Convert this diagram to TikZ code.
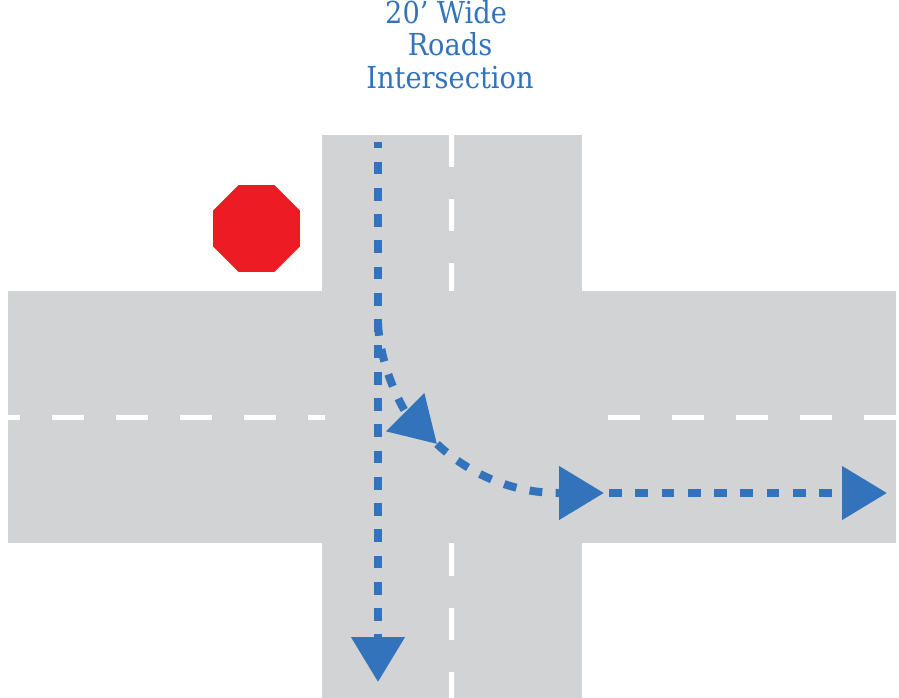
\documentclass[tikz,border=0pt]{standalone}
\usepackage{fontspec}
\setmainfont{DejaVu Serif Condensed}
\usepackage{xcolor}
\usetikzlibrary{arrows.meta, shapes.geometric}
\definecolor{roadgray}{RGB}{209,211,212}
\definecolor{routeblue}{RGB}{50,115,188}
\definecolor{signred}{RGB}{237,28,36}

\begin{document}
\begin{tikzpicture}[
  x=0.75pt, y=-0.75pt,
  road/.style={fill=roadgray},
  laneline/.style={white, line width=3.75pt},
  route/.style={routeblue, line width=6pt, dash pattern=on 9.6pt off 10.1pt},
  routearrow/.style={route, -{Triangle[length=33.75pt, width=39pt]}},
  stopsign/.style={regular polygon, regular polygon sides=8, fill=signred, inner sep=0pt, minimum size=70.6pt},
  titlelabel/.style={align=center, text=routeblue, font=\fontsize{22.7}{24.4}\selectfont, inner sep=0pt}
]
\useasboundingbox (0,0) rectangle (899,698);
\node[titlelabel, anchor=north] (title) at (450,0) {20’ Wide\hspace*{6pt}\\Roads\\Intersection};
\fill[road] (322,135) rectangle (581.5,698);
\fill[road] (8,291) rectangle (896,543);
\node[stopsign] (stop) at (256.5,228.5) {};
% lane markings
\foreach \y/\yy in {135/167,199/231,263/291,543/576,608/640,672/698} \draw[laneline] (451.5,\y) -- (451.5,\yy);
\foreach \x/\xx in {8/20,52/84,116/148,180/212,244/276,308/325,608/640,672/704,736/768,800/832,864/896} \draw[laneline] (\x,417.5) -- (\xx,417.5);
% routes
\coordinate (topStart) at (378,142);
\coordinate (bottomEnd) at (378,682);
\coordinate (turnStart) at (378,323);
\coordinate (turnMid) at (437,444);
\coordinate (turnEnd) at (558,493);
\coordinate (midEnd) at (604,493);
\coordinate (rightStart) at (609,493);
\coordinate (rightEnd) at (887,493);
\draw[routearrow, dash phase=5pt] (topStart) -- (bottomEnd);
\draw[routearrow] (turnStart) .. controls (380,370) and (405,412) .. (turnMid);
\draw[routearrow] (turnMid) .. controls (470,475) and (514,493) .. (turnEnd) -- (midEnd);
\draw[routearrow] (rightStart) -- (rightEnd);
\end{tikzpicture}
\end{document}
